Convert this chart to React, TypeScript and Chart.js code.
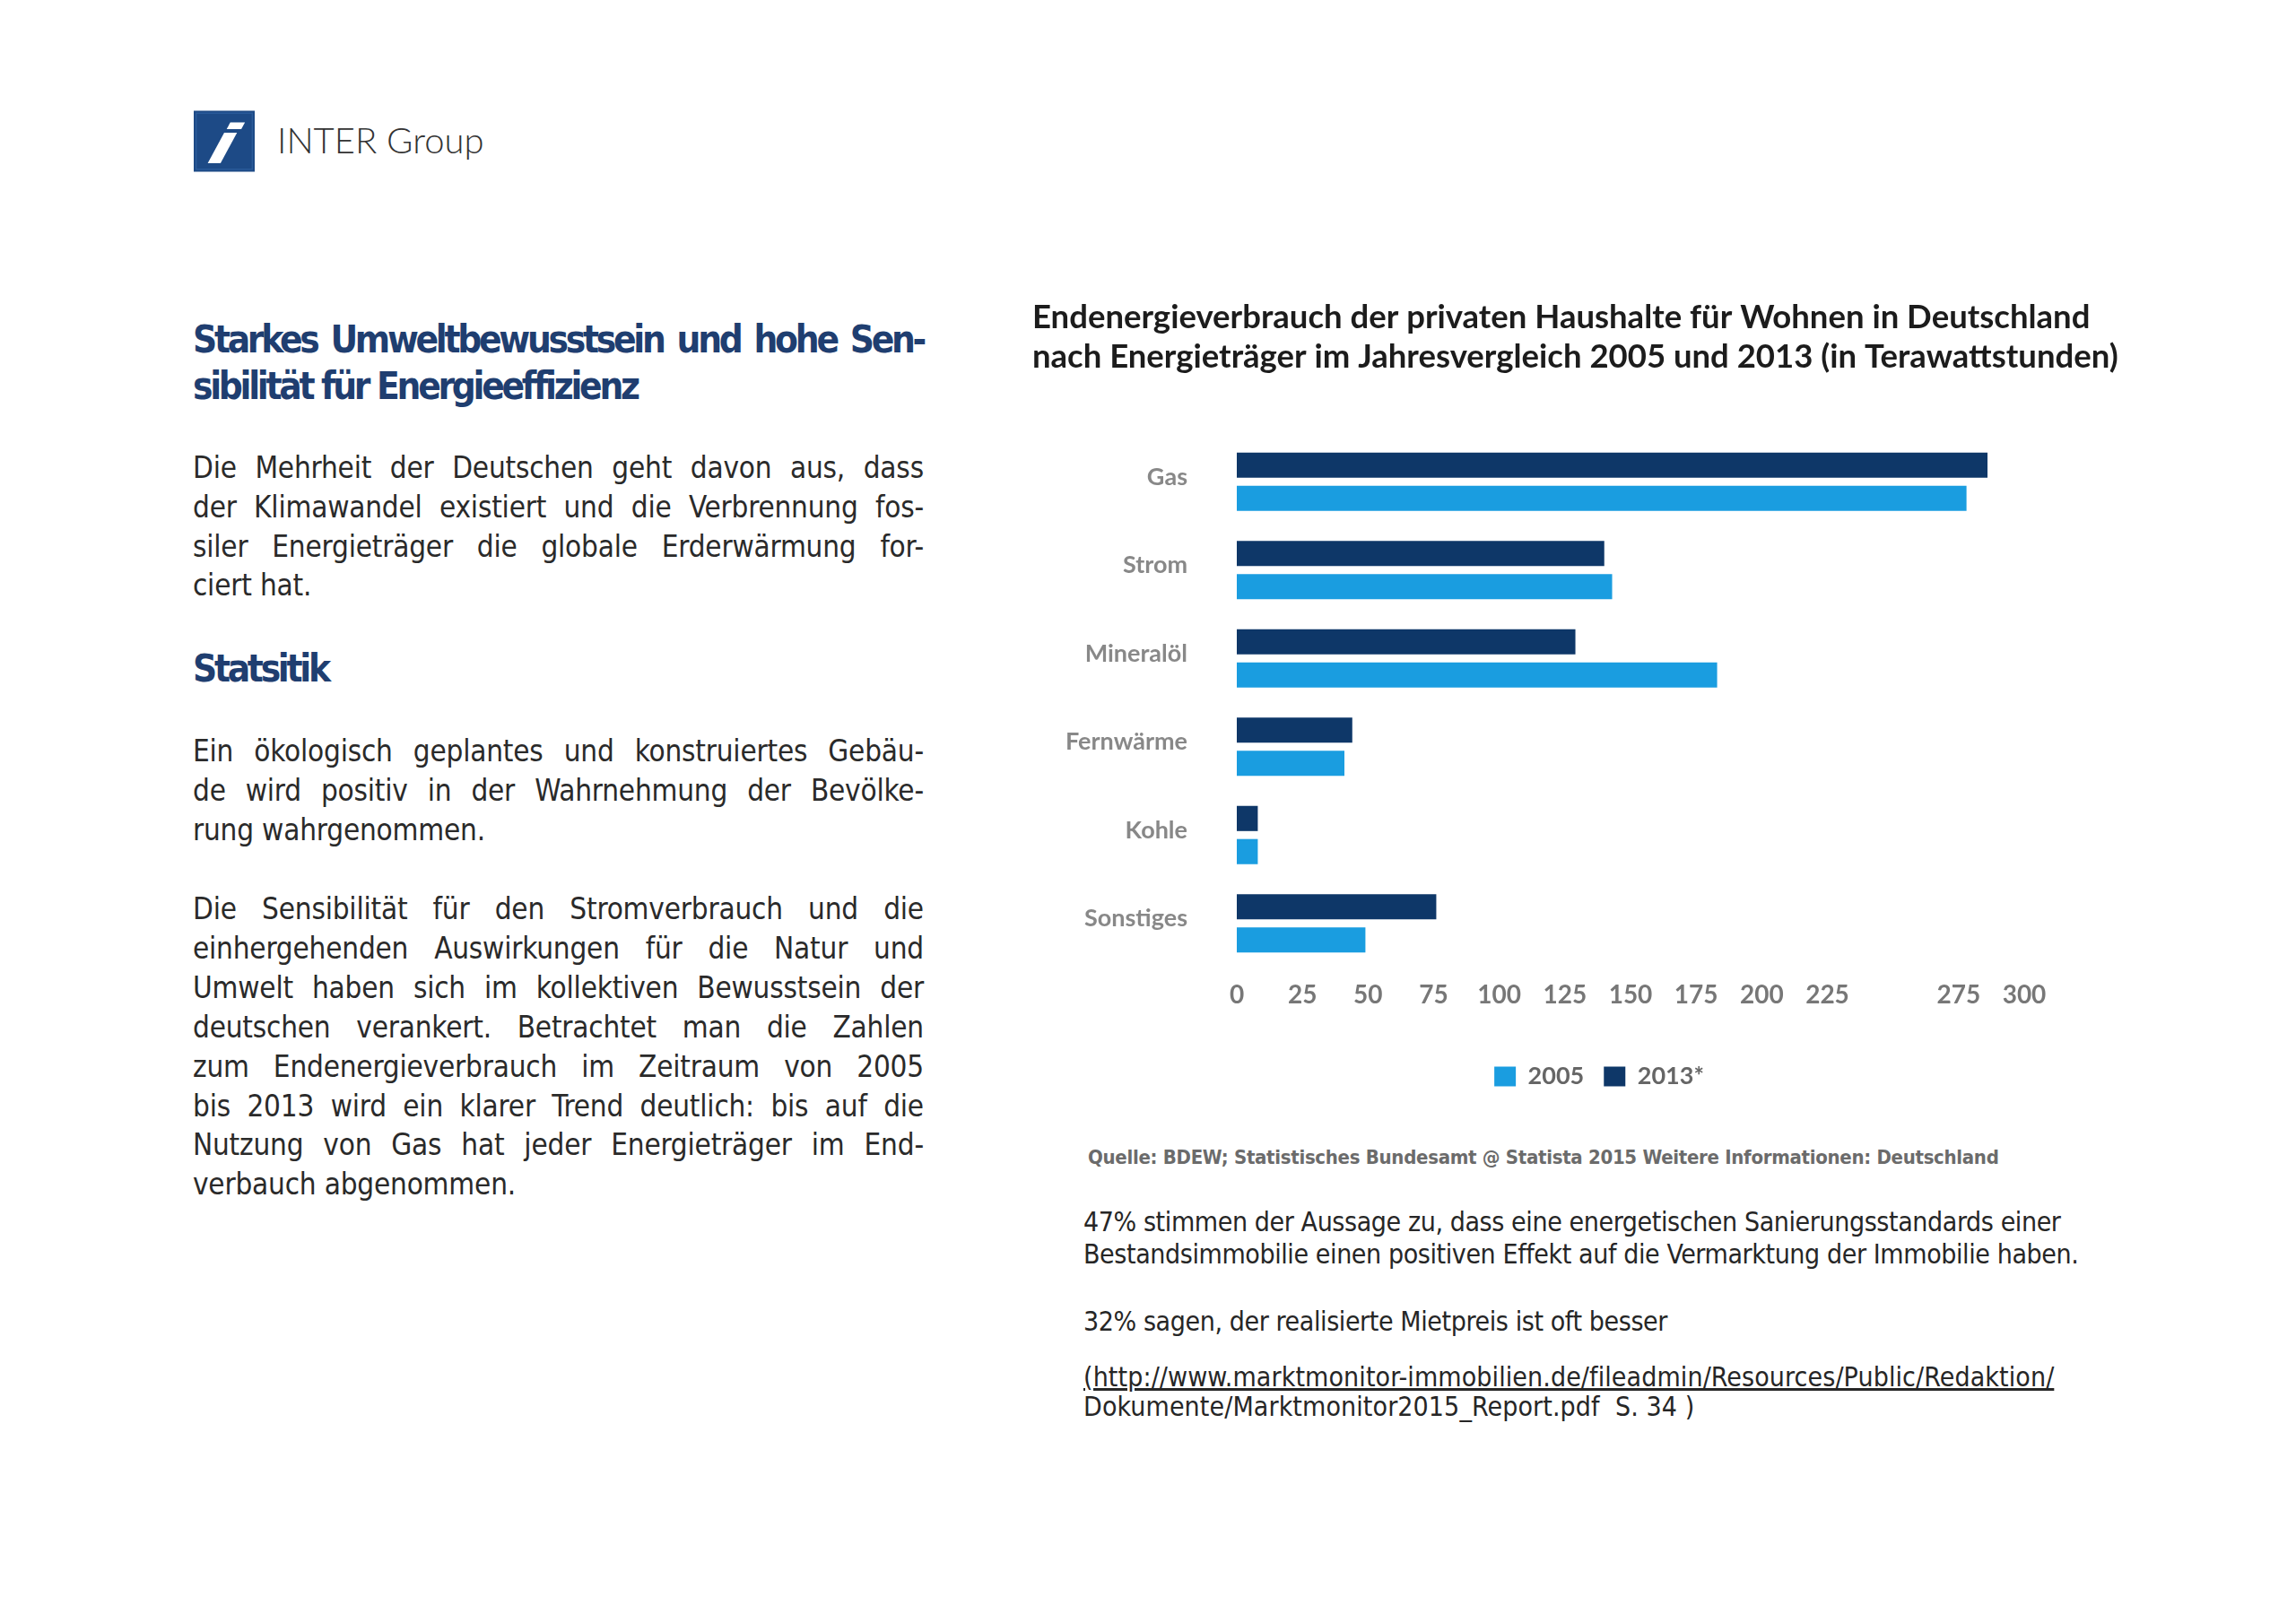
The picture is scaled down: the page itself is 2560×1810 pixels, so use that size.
import React, { useEffect, useRef } from "react";
import { Chart, registerables } from "chart.js";

Chart.register(...registerables);

// ---------- data ----------
const categories = ["Gas", "Strom", "Mineralöl", "Fernwärme", "Kohle", "Sonstiges"];
const values2013 = [286, 140, 129, 44, 8, 76];
const values2005 = [278, 143, 183, 41, 8, 49];
const seriesLabels = ["2005", "2013*"];
const tickValues = [0, 25, 50, 75, 100, 125, 150, 175, 200, 225, 275, 300];
const chartTitle = [
  "Endenergieverbrauch der privaten Haushalte für Wohnen in Deutschland",
  "nach Energieträger im Jahresvergleich 2005 und 2013 (in Terawattstunden)",
];
const sourceText =
  "Quelle: BDEW; Statistisches Bundesamt @ Statista 2015 Weitere Informationen: Deutschland";

const headingLines = ["Starkes Umweltbewusstsein und hohe Sen-", "sibilität für Energieeffizienz"];
const para1 = [
  "Die Mehrheit der Deutschen geht davon aus, dass",
  "der Klimawandel existiert und die Verbrennung fos-",
  "siler Energieträger die globale Erderwärmung for-",
  "ciert hat.",
];
const heading2 = "Statsitik";
const para2 = [
  "Ein ökologisch geplantes und konstruiertes Gebäu-",
  "de wird positiv in der Wahrnehmung der Bevölke-",
  "rung wahrgenommen.",
];
const para3 = [
  "Die Sensibilität für den Stromverbrauch und die",
  "einhergehenden Auswirkungen für die Natur und",
  "Umwelt haben sich im kollektiven Bewusstsein der",
  "deutschen verankert. Betrachtet man die Zahlen",
  "zum Endenergieverbrauch im Zeitraum von 2005",
  "bis 2013 wird ein klarer Trend deutlich: bis auf die",
  "Nutzung von Gas hat jeder Energieträger im End-",
  "verbauch abgenommen.",
];
const note1 = [
  "47% stimmen der Aussage zu, dass eine energetischen Sanierungsstandards einer",
  "Bestandsimmobilie einen positiven Effekt auf die Vermarktung der Immobilie haben.",
];
const note2 = "32% sagen, der realisierte Mietpreis ist oft besser";
const linkLines = [
  "(http://www.marktmonitor-immobilien.de/fileadmin/Resources/Public/Redaktion/",
  "Dokumente/Marktmonitor2015_Report.pdf  S. 34 )",
];

const DARK = "#0e3768";
const LIGHT = "#1a9de0";

function JLine({ text, justify, style }: { text: string; justify: boolean; style: any }) {
  if (!justify) {
    return <div style={{ ...style, whiteSpace: "pre" }}>{text}</div>;
  }
  const words = text.split(" ");
  return (
    <div style={{ ...style, display: "flex", justifyContent: "space-between", whiteSpace: "pre" }}>
      {words.map((w, i) => (
        <span key={i}>{w}</span>
      ))}
    </div>
  );
}

function Para({
  lines,
  left,
  centerY,
  lh,
  width,
  style,
  justify = true,
}: {
  lines: string[];
  left: number;
  centerY: number;
  lh: number;
  width: number;
  style: any;
  justify?: boolean;
}) {
  return (
    <div style={{ position: "absolute", left, top: centerY - lh / 2, width }}>
      {lines.map((l, i) => (
        <JLine
          key={i}
          text={l}
          justify={justify && i < lines.length - 1}
          style={{ ...style, height: lh, lineHeight: lh + "px", width }}
        />
      ))}
    </div>
  );
}

function BarChart() {
  const ref = useRef<HTMLCanvasElement | null>(null);
  useEffect(() => {
    let chart: Chart | null = null;
    let cancelled = false;
    const build = () => {
      if (cancelled || !ref.current) return;
      const lato = "Lato";
      chart = new Chart(ref.current, {
        type: "bar",
        data: {
          labels: categories,
          datasets: [
            {
              label: seriesLabels[1],
              data: values2013,
              backgroundColor: DARK,
              borderWidth: 0,
              categoryPercentage: 0.75,
              barPercentage: 0.76,
            },
            {
              label: seriesLabels[0],
              data: values2005,
              backgroundColor: LIGHT,
              borderWidth: 0,
              categoryPercentage: 0.75,
              barPercentage: 0.76,
            },
          ],
        },
        options: {
          indexAxis: "y",
          responsive: false,
          maintainAspectRatio: false,
          animation: false,
          layout: { padding: { left: 11, right: 0, top: 0, bottom: 0 } },
          plugins: {
            title: {
              display: true,
              text: chartTitle,
              align: "start",
              color: "#1c1c1c",
              font: { family: lato, size: 36.5, weight: "bold", lineHeight: "44px" },
              padding: { top: 12, bottom: 68 },
            },
            legend: {
              position: "bottom",
              reverse: true,
              labels: {
                boxWidth: 24,
                boxHeight: 22,
                padding: 22,
                color: "#666666",
                font: { family: lato, size: 27, weight: "bold" },
              },
            },
            tooltip: { enabled: false },
          },
          scales: {
            x: {
              type: "linear",
              min: 0,
              max: 300,
              afterBuildTicks: (s: any) => {
                s.ticks = tickValues.map((v) => ({ value: v }));
              },
              afterFit: (s: any) => {
                s.height = 86;
              },
              grid: { display: false, drawTicks: false },
              border: { display: false },
              ticks: {
                padding: 14,
                autoSkip: false,
                maxRotation: 0,
                color: "#777777",
                font: { family: lato, size: 28, weight: "bold" },
              },
            },
            y: {
              afterFit: (s: any) => {
                s.width = 228;
              },
              grid: { display: false, drawTicks: false },
              border: { display: false },
              ticks: {
                padding: 55,
                labelOffset: -5,
                color: "#888888",
                font: { family: lato, size: 27, weight: "bold" },
              },
            },
            pad: {
              type: "linear",
              position: "right",
              axis: "y",
              display: true,
              grid: { display: false, drawTicks: false },
              border: { display: false },
              ticks: { display: false },
              afterFit: (s: any) => {
                s.width = 158;
              },
            },
          },
        } as any,
      });
    };
    const fonts: any = (document as any).fonts;
    if (fonts && fonts.load) {
      Promise.all([fonts.load("bold 34px Lato"), fonts.load("bold 26px Lato")])
        .catch(() => null)
        .then(build);
    } else {
      build();
    }
    return () => {
      cancelled = true;
      if (chart) chart.destroy();
    };
  }, []);
  return (
    <canvas
      ref={ref}
      width={1275}
      height={904}
      style={{ position: "absolute", left: 1140, top: 320, width: 1275, height: 904 }}
    />
  );
}

function Logo() {
  return (
    <svg
      width={68}
      height={69}
      viewBox="0 0 100 100"
      style={{ position: "absolute", left: 216, top: 123 }}
    >
      <rect x="0" y="0" width="100" height="100" fill="#1d4a86" />
      <rect x="4" y="4" width="92" height="92" fill="none" stroke="#2c5d9c" strokeWidth="2" />
      <polygon points="60,19 84,19 78,30 54,30" fill="#ffffff" />
      <polygon points="50,36 71,36 44,86 23,86" fill="#ffffff" />
    </svg>
  );
}

export default function App() {
  const body = {
    fontFamily: "'DejaVu Sans Condensed', 'DejaVu Sans', sans-serif",
    fontSize: 33,
    color: "#2a2a2a",
    letterSpacing: "-0.2px",
  };
  const heading = {
    fontFamily: "'DejaVu Sans Condensed', 'DejaVu Sans', sans-serif",
    fontWeight: "bold",
    fontSize: 42,
    color: "#1f3e70",
    letterSpacing: "-3.3px",
  };
  const note = {
    fontFamily: "'DejaVu Sans Condensed', 'DejaVu Sans', sans-serif",
    fontSize: 30,
    color: "#262626",
    letterSpacing: "-0.4px",
  };
  const link = { ...note, letterSpacing: "0.1px" };
  return (
    <div
      style={{
        position: "fixed",
        left: 0,
        top: 0,
        width: 2560,
        height: 1810,
        background: "#ffffff",
        overflow: "hidden",
      }}
    >
      <Logo />
      <div
        style={{
          position: "absolute",
          left: 309,
          top: 136,
          fontFamily: "Lato, sans-serif",
          fontWeight: 300,
          fontSize: 40,
          lineHeight: "40px",
          color: "#333333",
          whiteSpace: "pre",
        }}
      >
        INTER Group
      </div>

      <Para lines={headingLines} left={215} centerY={379} lh={52} width={815} style={heading} />
      <Para lines={para1} left={215} centerY={522} lh={43.7} width={815} style={body} />
      <Para lines={[heading2]} left={215} centerY={746} lh={52} width={815} style={heading} />
      <Para lines={para2} left={215} centerY={838} lh={43.9} width={815} style={body} />
      <Para lines={para3} left={215} centerY={1014} lh={43.9} width={815} style={body} />

      <BarChart />

      <div
        style={{
          position: "absolute",
          left: 1213,
          top: 1276,
          fontFamily: "'DejaVu Sans Condensed', 'DejaVu Sans', sans-serif",
          fontWeight: "bold",
          fontSize: 22,
          lineHeight: "30px",
          color: "#6b6b6b",
          whiteSpace: "pre",
          letterSpacing: "-0.3px",
        }}
      >
        {sourceText}
      </div>

      <Para lines={note1} left={1208} centerY={1363} lh={36} width={1150} style={note} justify={false} />
      <div
        style={{
          position: "absolute",
          left: 1208,
          top: 1474 - 18,
          height: 36,
          lineHeight: "36px",
          whiteSpace: "pre",
          ...note,
        }}
      >
        {note2}
      </div>
      <div
        style={{
          position: "absolute",
          left: 1208,
          top: 1536 - 18,
          height: 36,
          lineHeight: "36px",
          whiteSpace: "pre",
          textDecoration: "underline",
          ...link,
        }}
      >
        {linkLines[0]}
      </div>
      <div
        style={{
          position: "absolute",
          left: 1208,
          top: 1569 - 18,
          height: 36,
          lineHeight: "36px",
          whiteSpace: "pre",
          ...link,
        }}
      >
        {linkLines[1]}
      </div>
    </div>
  );
}
